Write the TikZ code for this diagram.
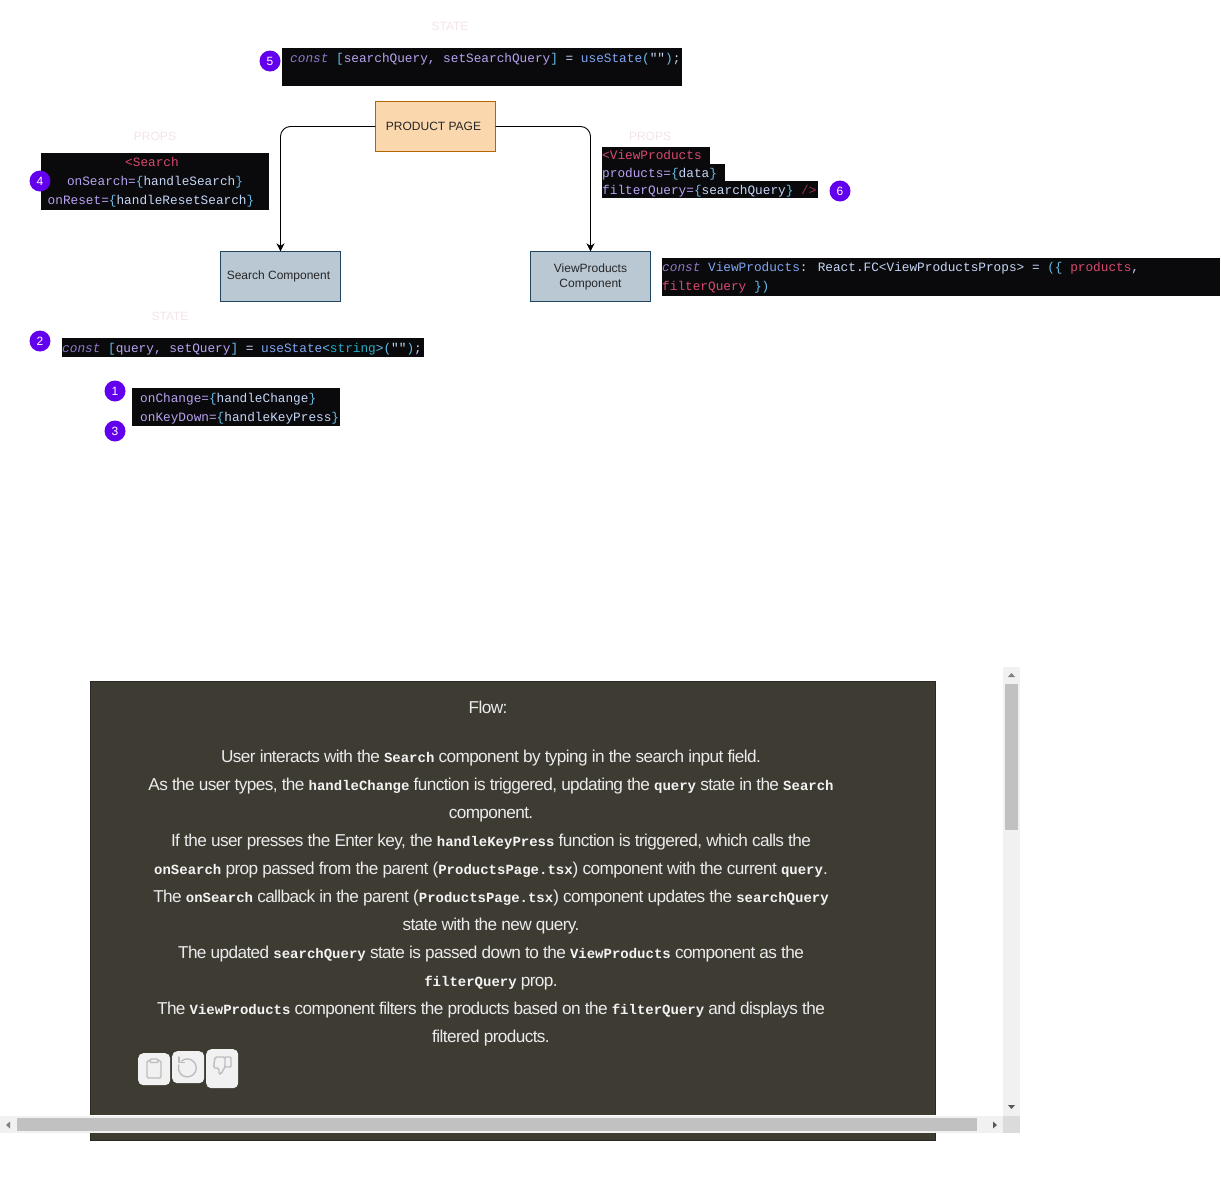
\documentclass[tikz,border=0pt]{standalone}
\usepackage{fontspec}
\setmainfont{Liberation Sans}
\setmonofont{Liberation Mono}
\newfontfamily\bodyfont[LetterSpace=-3.5]{Liberation Sans}
\newfontfamily\inlinefont{Liberation Mono}
\usetikzlibrary{arrows.meta}
\definecolor{codebg}{HTML}{0A0A0D}
\definecolor{kwcol}{HTML}{9078C8}
\definecolor{varcol}{HTML}{B9A2F0}
\definecolor{brcol}{HTML}{66BCE6}
\definecolor{fncol}{HTML}{80A6F0}
\definecolor{tagcol}{HTML}{D84A6E}
\definecolor{valcol}{HTML}{C6D6F6}
\definecolor{tealcol}{HTML}{22AFC4}
\definecolor{panelcol}{HTML}{3E3B33}
\definecolor{badgecol}{HTML}{6200EE}
\definecolor{barcol}{HTML}{F1F1F1}
\definecolor{thumbcol}{HTML}{C1C1C1}
\definecolor{iconcol}{HTML}{BDBDBD}
\definecolor{pagefill}{HTML}{FAD7AC}
\definecolor{pageline}{HTML}{B46504}
\definecolor{compfill}{HTML}{BAC8D3}
\definecolor{compline}{HTML}{23445D}
\definecolor{faintcol}{HTML}{F3E4E6}
\newcommand{\kw}[1]{\textcolor{kwcol}{\itshape #1}}
\newcommand{\vr}[1]{\textcolor{varcol}{#1}}
\newcommand{\br}[1]{\textcolor{brcol}{#1}}
\newcommand{\fn}[1]{\textcolor{fncol}{#1}}
\newcommand{\tg}[1]{\textcolor{tagcol}{#1}}
\newcommand{\vl}[1]{\textcolor{valcol}{#1}}
\newcommand{\ic}[1]{{\fontsize{14}{14}\inlinefont\bfseries\color{white!94!panelcol}#1}}
\tikzset{
  pagebox/.style={draw=pageline, fill=pagefill, text=black!85, minimum width=120pt, minimum height=50pt, align=center, font=\fontsize{12}{14}\selectfont},
  compbox/.style={draw=compline, fill=compfill, text=black!85, minimum width=120pt, minimum height=50pt, align=center, font=\fontsize{12}{15}\selectfont},
  codebar/.style={fill=codebg, inner sep=0pt, anchor=north west},
  code/.style={inner sep=0pt, text height=10pt, text depth=3pt, text=valcol, font=\fontsize{12.75}{14}\ttfamily},
  faint/.style={text=faintcol, font=\fontsize{12}{14}\selectfont},
  badge/.style={circle, fill=badgecol, text=white, inner sep=0pt, minimum size=21pt, font=\fontsize{12}{14}\selectfont},
  flowline/.style={inner sep=0pt, text height=15pt, text depth=4pt, text=white!90!panelcol, font=\fontsize{17.2}{19}\bodyfont},
  toolbtn/.style={fill=barcol, rounded corners=5pt, inner sep=0pt, anchor=north west},
  iconline/.style={draw=iconcol, line width=1.4pt, line cap=round, line join=round},
  link/.style={-{Stealth[length=8pt,width=8pt]}, line width=0.9pt, rounded corners=10pt}
}
\begin{document}
\begin{tikzpicture}[x=1pt,y=-1pt]
\useasboundingbox (0,0) rectangle (1221,1186);
% diagram
\node[pagebox] (page) at (435.5,126.5) {PRODUCT PAGE\hspace{4pt}};
\node[compbox] (search) at (280.5,276.5) {Search Component\hspace{4pt}};
\node[compbox] (view) at (590.5,276.5) {ViewProducts\\Component\hspace{2pt}};
\draw[link] (page.west) -| (search.north);
\draw[link] (page.east) -| (view.north);
% labels
\node[faint] (state1) at (450,26) {STATE};
\node[faint] (props1) at (155,136) {PROPS};
\node[faint] (props2) at (650,136) {PROPS};
\node[faint] (state2) at (170,316) {STATE};
% code snippets
\node[codebar, minimum width=400pt, minimum height=38pt] (statebar) at (282,48) {};
\node[code, anchor=west] (statecode) at (290,58.5) {\kw{const} \br{[}\vr{searchQuery, setSearchQuery}\br{]} \vl{=} \fn{useState}\br{(}\vl{""}\br{)}\vl{;}};
\node[codebar, minimum width=228pt, minimum height=57pt] (searchbar) at (41,153) {};
\node[code] (searcha) at (152,163) {\tg{<Search}};
\node[code] (searchb) at (155,182) {\vr{onSearch=}\br{\{}\vl{handleSearch}\br{\}}};
\node[code] (searchc) at (151,201) {\vr{onReset=}\br{\{}\vl{handleResetSearch}\br{\}}};
\node[codebar, minimum width=108pt, minimum height=17pt] (viewbara) at (602,147) {};
\node[codebar, minimum width=123pt, minimum height=17pt] (viewbarb) at (602,164) {};
\node[codebar, minimum width=216pt, minimum height=17pt] (viewbarc) at (602,181) {};
\node[code, anchor=west] (viewa) at (602,156) {\tg{<ViewProducts}};
\node[code, anchor=west] (viewb) at (602,173.5) {\vr{products=}\br{\{}\vl{data}\br{\}}};
\node[code, anchor=west] (viewc) at (602,190.5) {\vr{filterQuery=}\br{\{}\vl{searchQuery}\br{\}} \textcolor{tagcol!70!black}{/>}};
\node[codebar, minimum width=558pt, minimum height=38pt] (propsbar) at (662,258) {};
\node[code, anchor=west] (propsa) at (662,268) {\kw{const} \fn{ViewProducts}\vl{: React.FC<ViewProductsProps>} \vl{=} \br{(\{} \tg{products}\vl{,}};
\node[code, anchor=west] (propsb) at (662,287) {\tg{filterQuery} \br{\})}};
\node[codebar, minimum width=362pt, minimum height=19pt] (querybar) at (62,338) {};
\node[code, anchor=west] (querycode) at (62,348.5) {\kw{const} \br{[}\vr{query, setQuery}\br{]} \vl{=} \fn{useState}\br{<}\textcolor{tealcol}{string}\br{>(}\vl{""}\br{)}\vl{;}};
\node[codebar, minimum width=208pt, minimum height=38pt] (handlerbar) at (132,388) {};
\node[code, anchor=west] (handlera) at (140,398.5) {\vr{onChange=}\br{\{}\vl{handleChange}\br{\}}};
\node[code, anchor=west] (handlerb) at (140,417.5) {\vr{onKeyDown=}\br{\{}\vl{handleKeyPress}\br{\}}};
% numbered badges
\foreach \n/\x/\y in {1/115/391, 2/40/341, 3/115/431, 4/40/181, 5/270/61, 6/840/191}
  \node[badge] (badge\n) at (\x,\y) {\n};
% flow panel
\filldraw[fill=panelcol, draw=black!30!panelcol, line width=0.8pt] (90.4,681.4) rectangle (935.6,1140.6);
\node[flowline] (flow0) at (488,708) {Flow:};
\node[flowline] (flow1) at (491,757) {User interacts with the \ic{Search} component by typing in the search input field.};
\node[flowline] (flow2) at (491,785) {As the user types, the \ic{handleChange} function is triggered, updating the \ic{query} state in the \ic{Search}};
\node[flowline] (flow3) at (491,813) {component.};
\node[flowline] (flow4) at (491,841) {If the user presses the Enter key, the \ic{handleKeyPress} function is triggered, which calls the};
\node[flowline] (flow5) at (491,869) {\ic{onSearch} prop passed from the parent (\ic{ProductsPage.tsx}) component with the current \ic{query}.};
\node[flowline] (flow6) at (491,897) {The \ic{onSearch} callback in the parent (\ic{ProductsPage.tsx}) component updates the \ic{searchQuery}};
\node[flowline] (flow7) at (491,925) {state with the new query.};
\node[flowline] (flow8) at (491,953) {The updated \ic{searchQuery} state is passed down to the \ic{ViewProducts} component as the};
\node[flowline] (flow9) at (491,981) {\ic{filterQuery} prop.};
\node[flowline] (flow10) at (491,1009) {The \ic{ViewProducts} component filters the products based on the \ic{filterQuery} and displays the};
\node[flowline] (flow11) at (491,1037) {filtered products.};
% buttons
\node[toolbtn, minimum width=32pt, minimum height=32pt] (copybtn) at (138,1053) {};
\node[toolbtn, minimum width=32pt, minimum height=32pt] (undobtn) at (172,1051) {};
\node[toolbtn, minimum width=32pt, minimum height=39pt] (downbtn) at (206,1049) {};
\draw[iconline, rounded corners=1.5pt] (150,1060.5) -- (147,1060.5) -- (147,1078) -- (161,1078) -- (161,1060.5) -- (158,1060.5);
\draw[iconline, rounded corners=1pt] (150,1062.5) -- (150,1059) -- (158,1059) -- (158,1062.5) -- cycle;
\draw[iconline] (181.5,1061) arc (-130:200:9);
\draw[iconline] (179,1057) -- (179,1062.5) -- (184.5,1062.5);
\draw[iconline, rounded corners=1.5pt] (225,1057) -- (215,1057) -- (213.5,1068) -- (219,1068) -- (219,1074) -- (221,1074) -- (225,1067) -- cycle;
\draw[iconline, rounded corners=1pt] (225,1057) -- (231,1057) -- (231,1067) -- (225,1067);
% scrollbars
\fill[barcol] (1003,667) rectangle (1020,1116);
\fill[thumbcol] (1005,684) rectangle (1018,830);
\fill[white] (0,1115) rectangle (1003,1116);
\fill[barcol] (0,1116) rectangle (1003,1133);
\fill[thumbcol] (17,1118) rectangle (977,1131);
\fill[black!14] (1003,1116) rectangle (1020,1133);
\fill[black!50] (1011.5,673) -- (1015,677) -- (1008,677) -- cycle;
\fill[black!65] (1011.5,1109) -- (1015,1105) -- (1008,1105) -- cycle;
\fill[black!50] (6,1125) -- (10,1121.5) -- (10,1128.5) -- cycle;
\fill[black!65] (997,1125) -- (993,1121.5) -- (993,1128.5) -- cycle;
\end{tikzpicture}
\end{document}
